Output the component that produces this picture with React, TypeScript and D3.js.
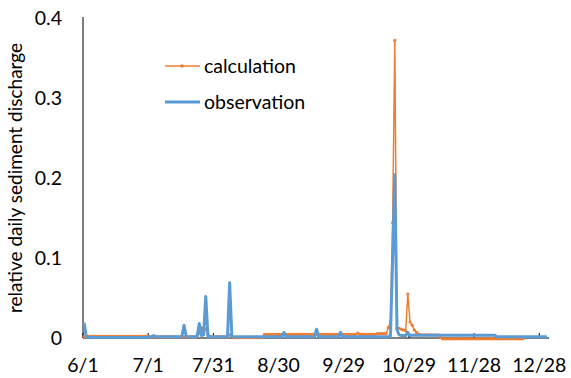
import * as d3 from "d3";
import { useEffect, useRef } from "react";

// x tick labels (month/day), every 30 days from 6/1
const tickLabels = ["6/1", "7/1", "7/31", "8/30", "9/29", "10/29", "11/28", "12/28"];
const yTicks = [0, 0.1, 0.2, 0.3, 0.4];

// daily values, starting 6/1
const observation = [
  0.019, 0.002, 0.0005, 0.0005, 0.0005, 0.0005, 0.0005, 0.0005, 0.0005, 0.0005,
  0.0005, 0.0005, 0.0005, 0.0005, 0.0005, 0.0005, 0.0005, 0.0005, 0.0005, 0.0005,
  0.0005, 0.0005, 0.0005, 0.0005, 0.0005, 0.0005, 0.0005, 0.0005, 0.0005, 0.0005,
  0.0015, 0.0015, 0.003, 0.0015, 0.0015, 0.0015, 0.0015, 0.0015, 0.0015, 0.0015,
  0.0015, 0.0015, 0.0015, 0.0015, 0.0015, 0.002, 0.016, 0.002, 0.0015, 0.0015,
  0.0015, 0.0015, 0.0015, 0.018, 0.003, 0.004, 0.052, 0.002, 0.0015, 0.0015,
  0.0015, 0.0015, 0.0015, 0.0015, 0.0015, 0.0015, 0.002, 0.069, 0.002, 0.0015,
  0.0015, 0.0015, 0.0015, 0.0015, 0.0015, 0.0015, 0.0015, 0.0015, 0.0015, 0.0015,
  0.0015, 0.0015, 0.0015, 0.0015, 0.0015, 0.0015, 0.0015, 0.0015, 0.0015, 0.0015,
  0.0015, 0.0015, 0.007, 0.0015, 0.0015, 0.0015, 0.0015, 0.0015, 0.0015, 0.0015,
  0.0015, 0.0015, 0.0015, 0.0015, 0.0015, 0.0015, 0.0015, 0.011, 0.0015, 0.0015,
  0.0015, 0.0015, 0.0015, 0.0015, 0.0015, 0.0015, 0.0015, 0.0015, 0.007, 0.0015,
  0.0015, 0.0015, 0.0015, 0.0015, 0.0015, 0.0015, 0.0015, 0.0015, 0.0015, 0.0015,
  0.0015, 0.0015, 0.0015, 0.0015, 0.0015, 0.0015, 0.0015, 0.0015, 0.0015, 0.0015,
  0.0015, 0.003, 0.1, 0.204, 0.01, 0.004, 0.003, 0.003, 0.003, 0.007,
  0.003, 0.0035, 0.0035, 0.0035, 0.0035, 0.0035, 0.0035, 0.0035, 0.0035, 0.0035,
  0.0035, 0.0035, 0.0035, 0.0035, 0.0035, 0.0035, 0.0035, 0.0035, 0.0035, 0.0035,
  0.0035, 0.0035, 0.0035, 0.0035, 0.0035, 0.0035, 0.0035, 0.0035, 0.0035, 0.0035,
  0.0035, 0.0035, 0.0035, 0.0035, 0.0035, 0.0035, 0.0035, 0.0035, 0.0035, 0.0035,
  0.0016, 0.0016, 0.0016, 0.0016, 0.0016, 0.0016, 0.0016, 0.0016, 0.0016, 0.0016,
  0.0016, 0.0016, 0.0016, 0.0016, 0.0016, 0.0016, 0.0016, 0.0016, 0.0016, 0.0016,
  0.0016, 0.0016, 0.0016, 0.0016,
];

const calculation = [
  0.002, 0.002, 0.002, 0.002, 0.002, 0.002, 0.002, 0.002, 0.002, 0.002,
  0.002, 0.002, 0.002, 0.002, 0.002, 0.002, 0.002, 0.002, 0.002, 0.002,
  0.002, 0.002, 0.002, 0.002, 0.002, 0.002, 0.002, 0.002, 0.002, 0.002,
  0.0015, 0.0015, 0.0015, 0.0015, 0.0015, 0.0015, 0.0015, 0.0015, 0.0015, 0.0015,
  0.0015, 0.0015, 0.0015, 0.0015, 0.0015, 0.0015, 0.0015, 0.0015, 0.0015, 0.0015,
  0.0015, 0.0015, 0.0015, 0.006, 0.013, 0.008, 0.011, 0.005, 0.002, 0.0015,
  0.0015, 0.0015, 0.0015, 0.0015, 0.0015, 0.0015, 0.0015, 0.004, 0.002, 0.0005,
  0.0005, 0.0005, 0.0005, 0.0005, 0.0005, 0.0005, 0.0005, 0.0005, 0.0005, 0.0005,
  0.0005, 0.0005, 0.0005, 0.0045, 0.0045, 0.0045, 0.0045, 0.0045, 0.0045, 0.0045,
  0.0045, 0.0045, 0.0045, 0.0045, 0.0045, 0.0045, 0.0045, 0.0045, 0.0045, 0.0045,
  0.0045, 0.0045, 0.0045, 0.0045, 0.0045, 0.0045, 0.0045, 0.0045, 0.0045, 0.0045,
  0.0045, 0.0045, 0.0045, 0.0045, 0.0045, 0.0045, 0.0045, 0.0045, 0.0045, 0.0045,
  0.0045, 0.0045, 0.0045, 0.0045, 0.0045, 0.0045, 0.006, 0.0045, 0.0045, 0.0045,
  0.0045, 0.0045, 0.0045, 0.0045, 0.0045, 0.0055, 0.0055, 0.0055, 0.0055, 0.0055,
  0.013, 0.02, 0.144, 0.372, 0.012, 0.012, 0.011, 0.01, 0.009, 0.055,
  0.02, 0.016, 0.01, 0.007, 0.005, 0.004, 0.004, 0.004, 0.004, 0.004,
  0.004, 0.004, 0.004, 0.004, 0.001, -0.001, -0.001, -0.001, -0.001, -0.001,
  -0.001, -0.001, -0.001, -0.001, -0.001, -0.001, -0.001, -0.001, -0.001, -0.001,
  -0.001, -0.001, -0.001, -0.001, -0.001, -0.001, -0.001, -0.001, -0.001, -0.001,
  -0.001, -0.001, -0.001, -0.001, -0.001, -0.001, -0.001, -0.001, -0.001, -0.001,
  -0.001, -0.001, -0.001,
];

const W = 571;
const H = 378;
const FONT = "Lato, 'Open Sans', sans-serif";
const ORANGE = "#ED7D31";
const BLUE = "#5B9BD5";

const toDate = (s: string) => {
  const [m, d] = s.split("/").map(Number);
  return new Date(2015, m - 1, d);
};

const App = () => {
  const ref = useRef<SVGSVGElement>(null);

  useEffect(() => {
    const svg = d3.select(ref.current);
    svg.selectAll("*").remove();

    const plot = { left: 83, right: 539.3, top: 18, bottom: 338 };
    const start = toDate(tickLabels[0]);
    const tickDates = tickLabels.map(toDate);

    const x = d3
      .scaleTime()
      .domain([start, tickDates[tickDates.length - 1]])
      .range([plot.left, plot.right]);
    const y = d3.scaleLinear().domain([0, 0.4]).range([plot.bottom, plot.top]);

    // points sit in the middle of each day
    const dayX = (i: number) => x(d3.timeHour.offset(d3.timeDay.offset(start, i), 12));

    // axes
    svg
      .append("line")
      .attr("x1", plot.left)
      .attr("x2", plot.left)
      .attr("y1", plot.top - 1)
      .attr("y2", plot.bottom)
      .attr("stroke", "#000");
    svg
      .append("line")
      .attr("x1", plot.left)
      .attr("x2", dayX(observation.length))
      .attr("y1", y(0))
      .attr("y2", y(0))
      .attr("stroke", "#000");
    svg
      .selectAll("xtick")
      .data(tickDates)
      .join("line")
      .attr("x1", (d) => x(d))
      .attr("x2", (d) => x(d))
      .attr("y1", y(0))
      .attr("y2", y(0) - 5)
      .attr("stroke", "#000");

    svg
      .selectAll("xlabel")
      .data(tickLabels)
      .join("text")
      .attr("x", (d) => x(toDate(d)))
      .attr("y", 372)
      .attr("text-anchor", "middle")
      .attr("font-family", FONT)
      .attr("font-size", 19.5)
      .attr("fill", "#000")
      .text((d) => d);

    svg
      .selectAll("ylabel")
      .data(yTicks)
      .join("text")
      .attr("x", 62)
      .attr("y", (d) => y(d))
      .attr("dy", "0.35em")
      .attr("text-anchor", "end")
      .attr("font-family", FONT)
      .attr("font-size", 19.5)
      .attr("fill", "#000")
      .text((d) => (d === 0 ? "0" : d3.format(".1f")(d)));

    svg
      .append("text")
      .attr("transform", `translate(14,${(plot.top + plot.bottom) / 2}) rotate(-90)`)
      .attr("text-anchor", "middle")
      .attr("dominant-baseline", "central")
      .attr("font-family", FONT)
      .attr("font-size", 19)
      .attr("fill", "#000")
      .text("relative daily sediment discharge");

    const line = d3
      .line<number>()
      .x((_, i) => dayX(i))
      .y((d) => y(d));

    // calculation series with markers
    svg
      .append("path")
      .attr("d", line(calculation))
      .attr("fill", "none")
      .attr("stroke", ORANGE)
      .attr("stroke-width", 1.5);
    svg
      .selectAll("calcDot")
      .data(calculation)
      .join("circle")
      .attr("cx", (_, i) => dayX(i))
      .attr("cy", (d) => y(d))
      .attr("r", 1.6)
      .attr("fill", ORANGE);

    // observation series
    svg
      .append("path")
      .attr("d", line(observation))
      .attr("fill", "none")
      .attr("stroke", BLUE)
      .attr("stroke-width", 3)
      .attr("stroke-linejoin", "round");

    // legend
    const legend = [
      { name: "calculation", color: ORANGE, width: 1.5, dot: true, y: 66 },
      { name: "observation", color: BLUE, width: 3, dot: false, y: 102 },
    ];
    const lg = svg.selectAll("legendItem").data(legend).join("g");
    lg.append("line")
      .attr("x1", 165)
      .attr("x2", 200)
      .attr("y1", (d) => d.y)
      .attr("y2", (d) => d.y)
      .attr("stroke", (d) => d.color)
      .attr("stroke-width", (d) => d.width);
    lg.filter((d) => d.dot)
      .append("circle")
      .attr("cx", 182)
      .attr("cy", (d) => d.y)
      .attr("r", 1.8)
      .attr("fill", (d) => d.color);
    lg.append("text")
      .attr("x", 204)
      .attr("y", (d) => d.y)
      .attr("dy", "0.35em")
      .attr("font-family", FONT)
      .attr("font-size", 19.5)
      .attr("fill", "#000")
      .text((d) => d.name);
  });

  return (
    <svg
      ref={ref}
      width={W}
      height={H}
      style={{ position: "absolute", left: 0, top: 0, background: "#fff" }}
    />
  );
};

export default App;
